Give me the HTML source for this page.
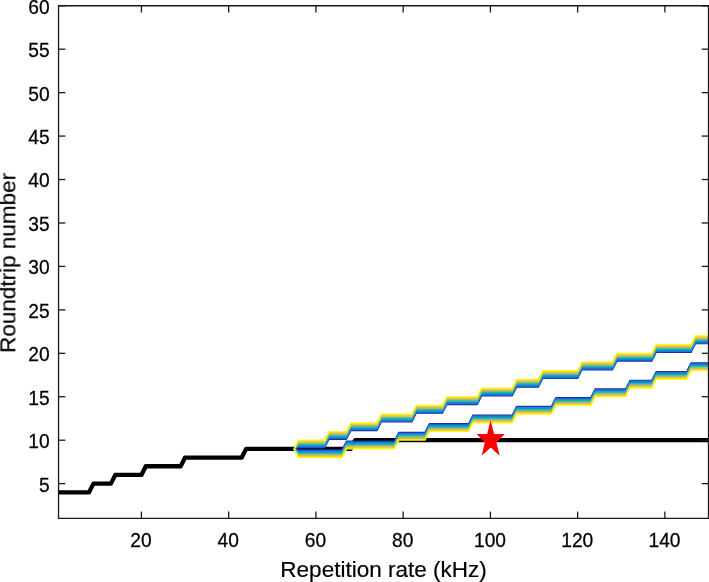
<!DOCTYPE html>
<html><head><meta charset="utf-8"><style>
html,body{margin:0;padding:0;background:#fff;width:709px;height:582px;overflow:hidden;font-family:"Liberation Sans",sans-serif}
</style></head><body>
<svg width="709" height="582" viewBox="0 0 709 582" font-family="'Liberation Sans', sans-serif" style="position:absolute;left:0;top:0">
<defs><clipPath id="c"><rect x="58.55" y="5.75" width="649.95" height="512.65"/></clipPath></defs>
<rect width="709" height="582" fill="#fff"/>
<g clip-path="url(#c)" fill="none" stroke-linejoin="round">
<polyline points="58.55,492.33 89.08,492.33 93.45,483.64 110.89,483.64 115.26,474.96 141.43,474.96 145.79,466.27 180.69,466.27 185.05,457.58 241.76,457.58 246.12,448.89 350.81,448.89 355.17,440.20 708.50,440.20" stroke="#000" stroke-width="4.30"/>
<polyline points="294.10,448.89 298.46,448.02 324.64,448.02 329.00,439.33 346.45,439.33 350.81,430.64 376.98,430.64 381.34,421.95 411.88,421.95 416.24,413.26 442.41,413.26 446.78,404.57 477.31,404.57 481.67,395.89 512.21,395.89 516.57,387.20 538.38,387.20 542.74,378.51 577.64,378.51 582.00,369.82 612.53,369.82 616.90,361.13 651.79,361.13 656.16,352.44 691.05,352.44 695.41,343.75 708.50,343.75" stroke="#1e2896" stroke-width="1.20"/>
<polyline points="294.10,448.89 298.46,449.76 342.09,449.76 346.45,441.07 394.43,441.07 398.79,432.38 424.96,432.38 429.33,423.69 468.59,423.69 472.95,415.00 512.21,415.00 516.57,406.31 551.47,406.31 555.83,397.62 590.72,397.62 595.09,388.93 625.62,388.93 629.98,380.25 651.79,380.25 656.16,371.56 686.69,371.56 691.05,362.87 708.50,362.87" stroke="#1e2896" stroke-width="1.20"/>
<polyline points="294.10,448.89 298.46,447.31 324.64,447.31 329.00,438.62 346.45,438.62 350.81,429.93 376.98,429.93 381.34,421.24 411.88,421.24 416.24,412.55 442.41,412.55 446.78,403.86 477.31,403.86 481.67,395.17 512.21,395.17 516.57,386.49 538.38,386.49 542.74,377.80 577.64,377.80 582.00,369.11 612.53,369.11 616.90,360.42 651.79,360.42 656.16,351.73 691.05,351.73 695.41,343.04 708.50,343.04" stroke="#2350d0" stroke-width="1.20"/>
<polyline points="294.10,448.89 298.46,450.47 342.09,450.47 346.45,441.78 394.43,441.78 398.79,433.09 424.96,433.09 429.33,424.40 468.59,424.40 472.95,415.71 512.21,415.71 516.57,407.02 551.47,407.02 555.83,398.33 590.72,398.33 595.09,389.65 625.62,389.65 629.98,380.96 651.79,380.96 656.16,372.27 686.69,372.27 691.05,363.58 708.50,363.58" stroke="#2350d0" stroke-width="1.20"/>
<polyline points="294.10,448.89 298.46,446.60 324.64,446.60 329.00,437.91 346.45,437.91 350.81,429.22 376.98,429.22 381.34,420.53 411.88,420.53 416.24,411.84 442.41,411.84 446.78,403.15 477.31,403.15 481.67,394.46 512.21,394.46 516.57,385.77 538.38,385.77 542.74,377.09 577.64,377.09 582.00,368.40 612.53,368.40 616.90,359.71 651.79,359.71 656.16,351.02 691.05,351.02 695.41,342.33 708.50,342.33" stroke="#0a73dd" stroke-width="1.20"/>
<polyline points="294.10,448.89 298.46,451.18 342.09,451.18 346.45,442.49 394.43,442.49 398.79,433.80 424.96,433.80 429.33,425.11 468.59,425.11 472.95,416.42 512.21,416.42 516.57,407.73 551.47,407.73 555.83,399.04 590.72,399.04 595.09,390.36 625.62,390.36 629.98,381.67 651.79,381.67 656.16,372.98 686.69,372.98 691.05,364.29 708.50,364.29" stroke="#0a73dd" stroke-width="1.20"/>
<polyline points="294.10,448.89 298.46,445.89 324.64,445.89 329.00,437.20 346.45,437.20 350.81,428.51 376.98,428.51 381.34,419.82 411.88,419.82 416.24,411.13 442.41,411.13 446.78,402.44 477.31,402.44 481.67,393.75 512.21,393.75 516.57,385.06 538.38,385.06 542.74,376.37 577.64,376.37 582.00,367.69 612.53,367.69 616.90,359.00 651.79,359.00 656.16,350.31 691.05,350.31 695.41,341.62 708.50,341.62" stroke="#138ad3" stroke-width="1.20"/>
<polyline points="294.10,448.89 298.46,451.89 342.09,451.89 346.45,443.20 394.43,443.20 398.79,434.51 424.96,434.51 429.33,425.82 468.59,425.82 472.95,417.13 512.21,417.13 516.57,408.44 551.47,408.44 555.83,399.76 590.72,399.76 595.09,391.07 625.62,391.07 629.98,382.38 651.79,382.38 656.16,373.69 686.69,373.69 691.05,365.00 708.50,365.00" stroke="#138ad3" stroke-width="1.20"/>
<polyline points="294.10,448.89 298.46,445.18 324.64,445.18 329.00,436.49 346.45,436.49 350.81,427.80 376.98,427.80 381.34,419.11 411.88,419.11 416.24,410.42 442.41,410.42 446.78,401.73 477.31,401.73 481.67,393.04 512.21,393.04 516.57,384.35 538.38,384.35 542.74,375.66 577.64,375.66 582.00,366.97 612.53,366.97 616.90,358.29 651.79,358.29 656.16,349.60 691.05,349.60 695.41,340.91 708.50,340.91" stroke="#06a3ca" stroke-width="1.20"/>
<polyline points="294.10,448.89 298.46,452.60 342.09,452.60 346.45,443.91 394.43,443.91 398.79,435.22 424.96,435.22 429.33,426.53 468.59,426.53 472.95,417.84 512.21,417.84 516.57,409.16 551.47,409.16 555.83,400.47 590.72,400.47 595.09,391.78 625.62,391.78 629.98,383.09 651.79,383.09 656.16,374.40 686.69,374.40 691.05,365.71 708.50,365.71" stroke="#06a3ca" stroke-width="1.20"/>
<polyline points="294.10,448.89 298.46,444.46 324.64,444.46 329.00,435.78 346.45,435.78 350.81,427.09 376.98,427.09 381.34,418.40 411.88,418.40 416.24,409.71 442.41,409.71 446.78,401.02 477.31,401.02 481.67,392.33 512.21,392.33 516.57,383.64 538.38,383.64 542.74,374.95 577.64,374.95 582.00,366.26 612.53,366.26 616.90,357.57 651.79,357.57 656.16,348.89 691.05,348.89 695.41,340.20 708.50,340.20" stroke="#1ab2b1" stroke-width="1.20"/>
<polyline points="294.10,448.89 298.46,453.31 342.09,453.31 346.45,444.62 394.43,444.62 398.79,435.93 424.96,435.93 429.33,427.24 468.59,427.24 472.95,418.56 512.21,418.56 516.57,409.87 551.47,409.87 555.83,401.18 590.72,401.18 595.09,392.49 625.62,392.49 629.98,383.80 651.79,383.80 656.16,375.11 686.69,375.11 691.05,366.42 708.50,366.42" stroke="#1ab2b1" stroke-width="1.20"/>
<polyline points="294.10,448.89 298.46,443.75 324.64,443.75 329.00,435.06 346.45,435.06 350.81,426.38 376.98,426.38 381.34,417.69 411.88,417.69 416.24,409.00 442.41,409.00 446.78,400.31 477.31,400.31 481.67,391.62 512.21,391.62 516.57,382.93 538.38,382.93 542.74,374.24 577.64,374.24 582.00,365.55 612.53,365.55 616.90,356.86 651.79,356.86 656.16,348.17 691.05,348.17 695.41,339.49 708.50,339.49" stroke="#51bd8f" stroke-width="1.20"/>
<polyline points="294.10,448.89 298.46,454.02 342.09,454.02 346.45,445.33 394.43,445.33 398.79,436.64 424.96,436.64 429.33,427.96 468.59,427.96 472.95,419.27 512.21,419.27 516.57,410.58 551.47,410.58 555.83,401.89 590.72,401.89 595.09,393.20 625.62,393.20 629.98,384.51 651.79,384.51 656.16,375.82 686.69,375.82 691.05,367.13 708.50,367.13" stroke="#51bd8f" stroke-width="1.20"/>
<polyline points="294.10,448.89 298.46,443.04 324.64,443.04 329.00,434.35 346.45,434.35 350.81,425.66 376.98,425.66 381.34,416.98 411.88,416.98 416.24,408.29 442.41,408.29 446.78,399.60 477.31,399.60 481.67,390.91 512.21,390.91 516.57,382.22 538.38,382.22 542.74,373.53 577.64,373.53 582.00,364.84 612.53,364.84 616.90,356.15 651.79,356.15 656.16,347.46 691.05,347.46 695.41,338.78 708.50,338.78" stroke="#92bf72" stroke-width="1.20"/>
<polyline points="294.10,448.89 298.46,454.73 342.09,454.73 346.45,446.04 394.43,446.04 398.79,437.36 424.96,437.36 429.33,428.67 468.59,428.67 472.95,419.98 512.21,419.98 516.57,411.29 551.47,411.29 555.83,402.60 590.72,402.60 595.09,393.91 625.62,393.91 629.98,385.22 651.79,385.22 656.16,376.53 686.69,376.53 691.05,367.84 708.50,367.84" stroke="#92bf72" stroke-width="1.20"/>
<polyline points="294.10,448.89 298.46,442.33 324.64,442.33 329.00,433.64 346.45,433.64 350.81,424.95 376.98,424.95 381.34,416.26 411.88,416.26 416.24,407.58 442.41,407.58 446.78,398.89 477.31,398.89 481.67,390.20 512.21,390.20 516.57,381.51 538.38,381.51 542.74,372.82 577.64,372.82 582.00,364.13 612.53,364.13 616.90,355.44 651.79,355.44 656.16,346.75 691.05,346.75 695.41,338.06 708.50,338.06" stroke="#c7bc5d" stroke-width="1.20"/>
<polyline points="294.10,448.89 298.46,455.44 342.09,455.44 346.45,446.76 394.43,446.76 398.79,438.07 424.96,438.07 429.33,429.38 468.59,429.38 472.95,420.69 512.21,420.69 516.57,412.00 551.47,412.00 555.83,403.31 590.72,403.31 595.09,394.62 625.62,394.62 629.98,385.93 651.79,385.93 656.16,377.24 686.69,377.24 691.05,368.55 708.50,368.55" stroke="#c7bc5d" stroke-width="1.20"/>
<polyline points="294.10,448.89 298.46,441.62 324.64,441.62 329.00,432.93 346.45,432.93 350.81,424.24 376.98,424.24 381.34,415.55 411.88,415.55 416.24,406.87 442.41,406.87 446.78,398.18 477.31,398.18 481.67,389.49 512.21,389.49 516.57,380.80 538.38,380.80 542.74,372.11 577.64,372.11 582.00,363.42 612.53,363.42 616.90,354.73 651.79,354.73 656.16,346.04 691.05,346.04 695.41,337.35 708.50,337.35" stroke="#f5ba47" stroke-width="1.20"/>
<polyline points="294.10,448.89 298.46,456.16 342.09,456.16 346.45,447.47 394.43,447.47 398.79,438.78 424.96,438.78 429.33,430.09 468.59,430.09 472.95,421.40 512.21,421.40 516.57,412.71 551.47,412.71 555.83,404.02 590.72,404.02 595.09,395.33 625.62,395.33 629.98,386.64 651.79,386.64 656.16,377.95 686.69,377.95 691.05,369.27 708.50,369.27" stroke="#f5ba47" stroke-width="1.20"/>
<polyline points="294.10,448.89 298.46,440.91 324.64,440.91 329.00,432.22 346.45,432.22 350.81,423.53 376.98,423.53 381.34,414.84 411.88,414.84 416.24,406.15 442.41,406.15 446.78,397.47 477.31,397.47 481.67,388.78 512.21,388.78 516.57,380.09 538.38,380.09 542.74,371.40 577.64,371.40 582.00,362.71 612.53,362.71 616.90,354.02 651.79,354.02 656.16,345.33 691.05,345.33 695.41,336.64 708.50,336.64" stroke="#f9d429" stroke-width="1.20"/>
<polyline points="294.10,448.89 298.46,456.87 342.09,456.87 346.45,448.18 394.43,448.18 398.79,439.49 424.96,439.49 429.33,430.80 468.59,430.80 472.95,422.11 512.21,422.11 516.57,413.42 551.47,413.42 555.83,404.73 590.72,404.73 595.09,396.04 625.62,396.04 629.98,387.35 651.79,387.35 656.16,378.67 686.69,378.67 691.05,369.98 708.50,369.98" stroke="#f9d429" stroke-width="1.20"/>
<polyline points="294.10,448.89 298.46,440.20 324.64,440.20 329.00,431.51 346.45,431.51 350.81,422.82 376.98,422.82 381.34,414.13 411.88,414.13 416.24,405.44 442.41,405.44 446.78,396.75 477.31,396.75 481.67,388.07 512.21,388.07 516.57,379.38 538.38,379.38 542.74,370.69 577.64,370.69 582.00,362.00 612.53,362.00 616.90,353.31 651.79,353.31 656.16,344.62 691.05,344.62 695.41,335.93 708.50,335.93" stroke="#f9fb0e" stroke-width="1.20"/>
<polyline points="294.10,448.89 298.46,457.58 342.09,457.58 346.45,448.89 394.43,448.89 398.79,440.20 424.96,440.20 429.33,431.51 468.59,431.51 472.95,422.82 512.21,422.82 516.57,414.13 551.47,414.13 555.83,405.44 590.72,405.44 595.09,396.75 625.62,396.75 629.98,388.07 651.79,388.07 656.16,379.38 686.69,379.38 691.05,370.69 708.50,370.69" stroke="#f9fb0e" stroke-width="1.20"/>
</g>
<g stroke="#181818" stroke-width="1.3" fill="none">
<rect x="58.55" y="5.75" width="649.95" height="512.65" stroke-linejoin="round"/>
<line x1="141.43" y1="518.40" x2="141.43" y2="511.60"/>
<line x1="141.43" y1="5.75" x2="141.43" y2="12.55"/>
<line x1="228.67" y1="518.40" x2="228.67" y2="511.60"/>
<line x1="228.67" y1="5.75" x2="228.67" y2="12.55"/>
<line x1="315.91" y1="518.40" x2="315.91" y2="511.60"/>
<line x1="315.91" y1="5.75" x2="315.91" y2="12.55"/>
<line x1="403.15" y1="518.40" x2="403.15" y2="511.60"/>
<line x1="403.15" y1="5.75" x2="403.15" y2="12.55"/>
<line x1="490.40" y1="518.40" x2="490.40" y2="511.60"/>
<line x1="490.40" y1="5.75" x2="490.40" y2="12.55"/>
<line x1="577.64" y1="518.40" x2="577.64" y2="511.60"/>
<line x1="577.64" y1="5.75" x2="577.64" y2="12.55"/>
<line x1="664.88" y1="518.40" x2="664.88" y2="511.60"/>
<line x1="664.88" y1="5.75" x2="664.88" y2="12.55"/>
<line x1="58.55" y1="483.64" x2="65.35" y2="483.64"/>
<line x1="708.50" y1="483.64" x2="701.70" y2="483.64"/>
<line x1="58.55" y1="440.20" x2="65.35" y2="440.20"/>
<line x1="708.50" y1="440.20" x2="701.70" y2="440.20"/>
<line x1="58.55" y1="396.75" x2="65.35" y2="396.75"/>
<line x1="708.50" y1="396.75" x2="701.70" y2="396.75"/>
<line x1="58.55" y1="353.31" x2="65.35" y2="353.31"/>
<line x1="708.50" y1="353.31" x2="701.70" y2="353.31"/>
<line x1="58.55" y1="309.86" x2="65.35" y2="309.86"/>
<line x1="708.50" y1="309.86" x2="701.70" y2="309.86"/>
<line x1="58.55" y1="266.42" x2="65.35" y2="266.42"/>
<line x1="708.50" y1="266.42" x2="701.70" y2="266.42"/>
<line x1="58.55" y1="222.97" x2="65.35" y2="222.97"/>
<line x1="708.50" y1="222.97" x2="701.70" y2="222.97"/>
<line x1="58.55" y1="179.53" x2="65.35" y2="179.53"/>
<line x1="708.50" y1="179.53" x2="701.70" y2="179.53"/>
<line x1="58.55" y1="136.08" x2="65.35" y2="136.08"/>
<line x1="708.50" y1="136.08" x2="701.70" y2="136.08"/>
<line x1="58.55" y1="92.64" x2="65.35" y2="92.64"/>
<line x1="708.50" y1="92.64" x2="701.70" y2="92.64"/>
<line x1="58.55" y1="49.19" x2="65.35" y2="49.19"/>
<line x1="708.50" y1="49.19" x2="701.70" y2="49.19"/>
<line x1="58.55" y1="5.75" x2="65.35" y2="5.75"/>
<line x1="708.50" y1="5.75" x2="701.70" y2="5.75"/>
</g>
<polygon points="490.50,420.10 494.10,434.10 504.80,434.00 496.40,442.60 499.70,455.80 490.70,447.60 481.70,455.80 484.80,442.60 476.60,434.00 487.20,434.10" fill="#ff0000"/>
<g style="will-change:transform">
<text transform="translate(141.030 546.900) scale(1 1.0200)" text-anchor="middle" font-size="19.20" fill="#000" stroke="#000" stroke-width="0.25">20</text>
<text transform="translate(228.271 546.900) scale(1 1.0200)" text-anchor="middle" font-size="19.20" fill="#000" stroke="#000" stroke-width="0.25">40</text>
<text transform="translate(315.513 546.900) scale(1 1.0200)" text-anchor="middle" font-size="19.20" fill="#000" stroke="#000" stroke-width="0.25">60</text>
<text transform="translate(402.754 546.900) scale(1 1.0200)" text-anchor="middle" font-size="19.20" fill="#000" stroke="#000" stroke-width="0.25">80</text>
<text transform="translate(489.996 546.900) scale(1 1.0200)" text-anchor="middle" font-size="19.20" fill="#000" stroke="#000" stroke-width="0.25">100</text>
<text transform="translate(577.238 546.900) scale(1 1.0200)" text-anchor="middle" font-size="19.20" fill="#000" stroke="#000" stroke-width="0.25">120</text>
<text transform="translate(664.479 546.900) scale(1 1.0200)" text-anchor="middle" font-size="19.20" fill="#000" stroke="#000" stroke-width="0.25">140</text>
<text transform="translate(49.650 491.544) scale(1 1.0200)" text-anchor="end" font-size="19.20" fill="#000" stroke="#000" stroke-width="0.25">5</text>
<text transform="translate(49.650 448.099) scale(1 1.0200)" text-anchor="end" font-size="19.20" fill="#000" stroke="#000" stroke-width="0.25">10</text>
<text transform="translate(49.650 404.654) scale(1 1.0200)" text-anchor="end" font-size="19.20" fill="#000" stroke="#000" stroke-width="0.25">15</text>
<text transform="translate(49.650 361.209) scale(1 1.0200)" text-anchor="end" font-size="19.20" fill="#000" stroke="#000" stroke-width="0.25">20</text>
<text transform="translate(49.650 317.764) scale(1 1.0200)" text-anchor="end" font-size="19.20" fill="#000" stroke="#000" stroke-width="0.25">25</text>
<text transform="translate(49.650 274.319) scale(1 1.0200)" text-anchor="end" font-size="19.20" fill="#000" stroke="#000" stroke-width="0.25">30</text>
<text transform="translate(49.650 230.875) scale(1 1.0200)" text-anchor="end" font-size="19.20" fill="#000" stroke="#000" stroke-width="0.25">35</text>
<text transform="translate(49.650 187.430) scale(1 1.0200)" text-anchor="end" font-size="19.20" fill="#000" stroke="#000" stroke-width="0.25">40</text>
<text transform="translate(49.650 143.985) scale(1 1.0200)" text-anchor="end" font-size="19.20" fill="#000" stroke="#000" stroke-width="0.25">45</text>
<text transform="translate(49.650 100.540) scale(1 1.0200)" text-anchor="end" font-size="19.20" fill="#000" stroke="#000" stroke-width="0.25">50</text>
<text transform="translate(49.650 57.095) scale(1 1.0200)" text-anchor="end" font-size="19.20" fill="#000" stroke="#000" stroke-width="0.25">55</text>
<text transform="translate(49.650 13.650) scale(1 1.0200)" text-anchor="end" font-size="19.20" fill="#000" stroke="#000" stroke-width="0.25">60</text>
<text transform="translate(383.500 577.500) scale(1 1.0100)" text-anchor="middle" font-size="22.50" fill="#000" stroke="#000" stroke-width="0.20">Repetition rate (kHz)</text>
<text transform="translate(15.600 262.900) rotate(-90) scale(1 1.0100)" text-anchor="middle" font-size="22.50" fill="#000" stroke="#000" stroke-width="0.20">Roundtrip number</text>
</g>
</svg>
</body></html>
